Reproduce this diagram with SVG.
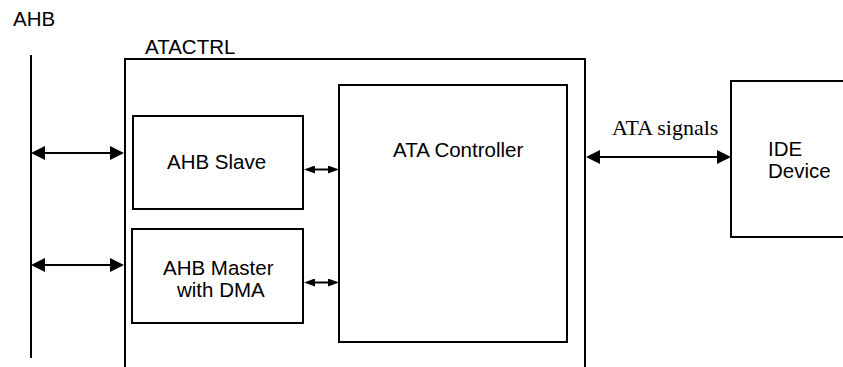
<svg xmlns="http://www.w3.org/2000/svg" width="843" height="367" viewBox="0 0 843 367">
<style>
.box{fill:none;stroke:#000;stroke-width:2}
.ln{fill:none;stroke:#000;stroke-width:2}
.t{font-family:"Liberation Sans",Arial,sans-serif;font-size:20.5px;fill:#000}
.s{font-family:"Liberation Serif","Times New Roman",serif;font-size:22px;fill:#000}
.big{marker-start:url(#hb);marker-end:url(#hb)}
.sm{marker-start:url(#hs);marker-end:url(#hs)}
</style>
<defs>
<marker id="hb" markerUnits="userSpaceOnUse" markerWidth="14" markerHeight="14" refX="3" refY="7" orient="auto-start-reverse"><path d="M0,0 L14,7 L0,14 z" fill="#000"/></marker>
<marker id="hs" markerUnits="userSpaceOnUse" markerWidth="11" markerHeight="8" refX="2" refY="4" orient="auto-start-reverse"><path d="M0,0 L11,4 L0,8 z" fill="#000"/></marker>
</defs>
<rect width="843" height="367" fill="#fff"/>
<g id="ahb">
<path class="ln" d="M31,55 V358"/>
<text class="t" x="13" y="26">AHB</text>
</g>
<g id="atactrl">
<path class="box" d="M125,368 V59 H585 V368"/>
<text class="t" x="145" y="54">ATACTRL</text>
</g>
<g id="ahb-slave">
<rect class="box" x="133" y="116" width="170" height="93"/>
<text class="t" x="167" y="169">AHB Slave</text>
</g>
<g id="ahb-master">
<rect class="box" x="132" y="229" width="171" height="94"/>
<text class="t" x="163" y="275">AHB Master</text>
<text class="t" x="177" y="297">with DMA</text>
</g>
<g id="ata-controller">
<rect class="box" x="339" y="85" width="228" height="257"/>
<text class="t" x="393" y="157">ATA Controller</text>
</g>
<g id="ide-device">
<path class="box" d="M846,81 H731 V237 H846"/>
<text class="t" x="768" y="155.5">IDE</text>
<text class="t" x="768" y="177.5">Device</text>
</g>
<g id="connectors">
<line class="ln big" x1="42" y1="153" x2="113" y2="153"/>
<line class="ln big" x1="42" y1="265" x2="113" y2="265"/>
<line class="ln sm" x1="313" y1="169.5" x2="330" y2="169.5"/>
<line class="ln sm" x1="313" y1="282.5" x2="330" y2="282.5"/>
<line class="ln big" x1="597" y1="157" x2="720" y2="157"/>
<text class="s" x="612" y="135">ATA signals</text>
</g>
</svg>
